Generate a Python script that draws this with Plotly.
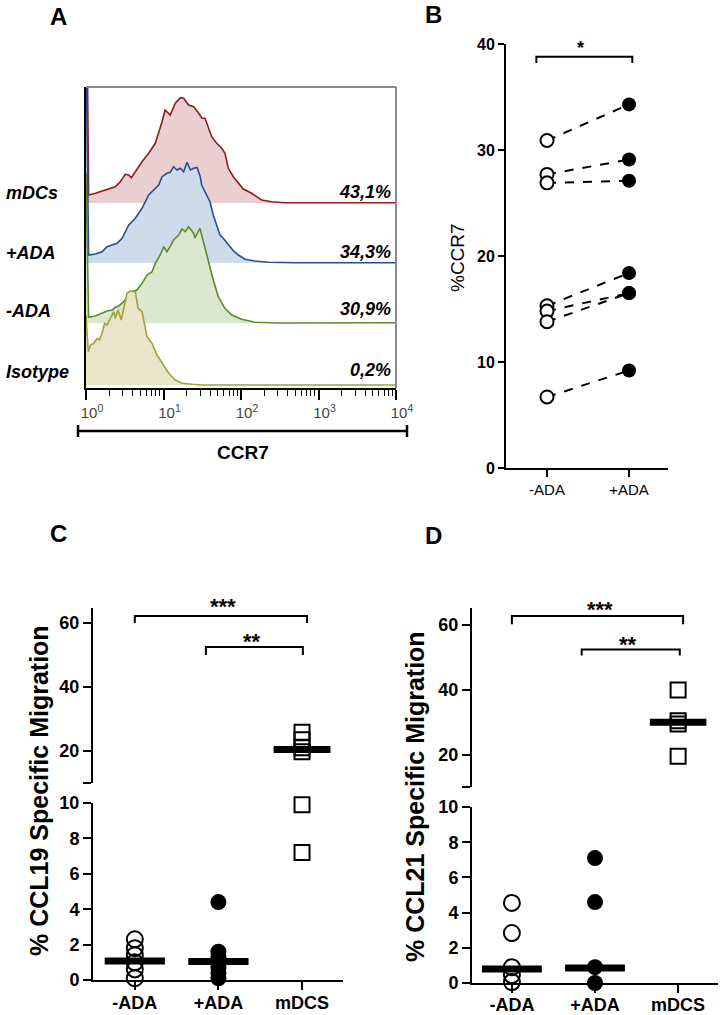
import plotly.graph_objects as go

W, H = 725, 1015
FONT = "Liberation Sans, Arial, sans-serif"

# ---------------- Panel A: CCR7 histograms (intensity vs. relative count) --------
mdcs_x = [1.0, 1.08, 1.32, 1.61, 1.96, 2.39, 2.77, 3.21, 3.56, 3.84, 4.33, 5.28, 6.44, 7.84,
          9.57, 10.5, 12.2, 14.2, 16.5, 18.2, 21.1, 24.5, 28.5, 31.4, 34.3, 37.9, 41.9, 48.6,
          56.4, 62.2, 68.6, 79.6, 92.3, 107, 137, 185, 249, 370, 10000]
mdcs_y = [300, 8, 9.7, 12, 14.7, 16.3, 21.3, 28.7, 28, 25.3, 31.3, 41.3, 49.7, 59.7,
          81.3, 93, 88, 99.7, 105.3, 104.7, 98, 96.3, 89.7, 84.7, 84.7, 74.7, 66.3, 59.7,
          54.7, 49.7, 34.7, 26.3, 19.7, 14, 9.7, 3, 1.3, 0.3, 0.3]

plus_x = [1.0, 1.08, 1.32, 1.61, 1.87, 2.17, 2.51, 2.91, 3.21, 3.56, 4.33, 5.28, 6.44, 7.47,
          8.67, 9.57, 11.1, 12.2, 13.5, 14.9, 16.5, 18.2, 20.1, 22.2, 24.5, 27.1, 29.8, 31.1,
          36.1, 39.8, 43.9, 48.6, 53.6, 59.1, 68.6, 79.6, 92.3, 113, 152, 225, 497, 10000]
plus_y = [220, 8, 9, 11.3, 16.3, 18, 19.7, 24.5, 31.3, 38, 44.7, 54.7, 68, 73,
          78, 86.3, 89.7, 90.7, 96.3, 93, 94.7, 91.3, 100.7, 93, 94.7, 95.5, 86.3, 78,
          68, 61.3, 48, 38, 28, 24.7, 18, 12.3, 8, 3.7, 2, 0.7, 0.2, 0.2]

minus_x = [1.0, 1.08, 1.32, 1.61, 1.87, 2.17, 2.39, 2.64, 3.06, 3.38, 3.92, 4.54, 5.28, 6.13,
           7.11, 7.84, 9.06, 10.05, 11.1, 12.2, 13.5, 15.7, 17.3, 19.1, 21.1, 24.5, 25.5, 29.5,
           32.6, 37.9, 43.9, 50.9, 61.9, 75.9, 102, 151, 303, 10000]
minus_y = [150, 5.7, 7, 10.3, 12, 13, 15.7, 17, 21.3, 26.3, 31.3, 33, 39.7, 48,
           51.3, 59.7, 68, 76.3, 71.3, 76.3, 83, 88, 94, 91.3, 96.3, 89.7, 85, 94.7,
           81.3, 59.7, 43, 26.3, 14.7, 8, 3.7, 0.7, 0, 0.3]

iso_x = [1.0, 1.07, 1.14, 1.26, 1.39, 1.48, 1.61, 1.74, 1.87, 2.06, 2.28, 2.39, 2.59, 2.85,
         3.16, 3.38, 3.73, 4.33, 4.69, 5.28, 6.12, 7.11, 8.24, 9.57, 11.7, 14.2, 17.3, 23.3,
         31.4, 10000]
iso_y = [70, 33.3, 40, 41.7, 46.7, 45, 51.7, 61.7, 60, 66.7, 73.3, 66.7, 75, 65,
         80, 91.7, 94, 93.3, 76.7, 73.3, 48.3, 41.7, 30, 21.7, 11.7, 5, 1.7, 0.7,
         0, 0]

hist_names = ["mDCs", "+ADA", "-ADA", "Isotype"]
hist_pct = ["43,1%", "34,3%", "30,9%", "0,2%"]
a_ticktext = ["10<sup>0</sup>", "10<sup>1</sup>", "10<sup>2</sup>", "10<sup>3</sup>", "10<sup>4</sup>"]

# ---------------- Panel B: paired %CCR7 ----------------
b_categories = ["-ADA", "+ADA"]
b_minus = [30.9, 27.7, 26.9, 15.3, 14.8, 13.8, 6.7]
b_plus = [34.3, 29.1, 27.1, 18.4, 16.5, 16.5, 9.2]

# ---------------- Panels C / D: specific migration ----------------
cd_categories = ["-ADA", "+ADA", "mDCS"]
c_minus = [2.3, 1.8, 1.4, 1.0, 0.6, 0.1]
c_plus = [4.4, 1.6, 1.3, 1.0, 0.7, 0.4, 0.1]
c_mdcs = [25.9, 23.5, 21.0, 19.8, 9.9, 7.2]
c_median = [1.07, 1.05, 20.5]

d_minus = [4.55, 2.84, 0.9, 0.45, 0.05]
d_plus = [7.1, 4.6, 0.9, 0.0]
d_mdcs = [40.0, 30.5, 29.5, 19.5]
d_median = [0.8, 0.85, 30.0]


def px(x):
    return x / W


def py(y):
    return 1 - y / H


fig = go.Figure()

# ---- Panel A traces ----
offsets = [182, 122, 62, 0]
line_cols = ["#8e1b1f", "#23508f", "#5b8c2a", "#a3a23a"]
fill_cols = ["#e9cfcf", "#cddbea", "#dbe7cf", "#e8e5c9"]
curves = [(mdcs_x, mdcs_y), (plus_x, plus_y), (minus_x, minus_y), (iso_x, iso_y)]
for (cx, cy), off, lc, fc in zip(curves, offsets, line_cols, fill_cols):
    fig.add_trace(go.Scatter(x=[cx[0], cx[-1]], y=[off, off], mode="lines",
                             line=dict(width=0), xaxis="x", yaxis="y",
                             showlegend=False, hoverinfo="skip"))
    fig.add_trace(go.Scatter(x=cx, y=[v + off for v in cy], mode="lines",
                             line=dict(color=lc, width=1.6), fill="tonexty",
                             fillcolor=fc, xaxis="x", yaxis="y", showlegend=False))

# ---- Panel B traces ----
for a, b in zip(b_minus, b_plus):
    fig.add_trace(go.Scatter(x=[0, 1], y=[a, b], mode="lines",
                             line=dict(color="black", width=2, dash="dash"),
                             xaxis="x2", yaxis="y2", showlegend=False))
fig.add_trace(go.Scatter(x=[0] * len(b_minus), y=b_minus, mode="markers",
                         marker=dict(symbol="circle", size=13, color="white",
                                     line=dict(color="black", width=2)),
                         xaxis="x2", yaxis="y2", showlegend=False, cliponaxis=False))
fig.add_trace(go.Scatter(x=[1] * len(b_plus), y=b_plus, mode="markers",
                         marker=dict(symbol="circle", size=14, color="black"),
                         xaxis="x2", yaxis="y2", showlegend=False, cliponaxis=False))


# ---- Panels C / D traces ----
def add_migration(groups, medians, xa, y_low, y_high):
    styles = [dict(symbol="circle-open", size=16, color="black", line=dict(width=2)),
              dict(symbol="circle", size=16, color="black"),
              dict(symbol="square-open", size=15, color="black", line=dict(width=2))]
    for i, (vals, st) in enumerate(zip(groups, styles)):
        lo = [v for v in vals if v <= 10]
        hi = [v for v in vals if v > 10]
        if lo:
            fig.add_trace(go.Scatter(x=[i] * len(lo), y=lo, mode="markers", marker=st,
                                     xaxis=xa, yaxis=y_low, showlegend=False, cliponaxis=False))
        if hi:
            fig.add_trace(go.Scatter(x=[i] * len(hi), y=hi, mode="markers", marker=st,
                                     xaxis=xa, yaxis=y_high, showlegend=False, cliponaxis=False))
    for i, m in enumerate(medians):
        half = 0.36 if i < 2 else 0.34
        fig.add_trace(go.Scatter(x=[i - half, i + half], y=[m, m], mode="lines",
                                 line=dict(color="black", width=7),
                                 xaxis=xa, yaxis=(y_low if m <= 10 else y_high),
                                 showlegend=False, cliponaxis=False))


add_migration([c_minus, c_plus, c_mdcs], c_median, "x3", "y3", "y4")
add_migration([d_minus, d_plus, d_mdcs], d_median, "x4", "y5", "y6")

# ---------------- Axes ----------------
bold = dict(family=FONT, size=18, color="black", weight="bold")
common = dict(showgrid=False, zeroline=False, showline=True, linecolor="black", linewidth=2,
              automargin=False)

minor_vals = [k * 10 ** d for d in range(4) for k in range(2, 10)]
fig.update_layout(
    template="none",
    xaxis=dict(domain=[px(86), px(396)], anchor="y", type="log", range=[0, 4],
               tickvals=[1, 10, 100, 1000, 10000], ticktext=a_ticktext,
               ticks="outside", ticklen=10, tickwidth=1.5, tickcolor="black",
               tickfont=dict(family=FONT, size=15, color="#444"), ticklabelshift=6,
               minor=dict(tickvals=minor_vals, ticks="outside", ticklen=6,
                          tickwidth=1, tickcolor="black"),
               **common),
    yaxis=dict(domain=[py(388), py(87)], anchor="x", range=[-3, 298],
               showticklabels=False, ticks="", **common),
    xaxis2=dict(domain=[px(506), px(668)], anchor="y2", range=[-0.5, 1.475],
                tickvals=[0, 1], ticktext=b_categories, ticks="outside", ticklen=7,
                tickwidth=2, tickcolor="black",
                tickfont=dict(family=FONT, size=15, color="black"), **common),
    yaxis2=dict(domain=[py(468), py(44)], anchor="x2", range=[0, 40],
                tickvals=[0, 10, 20, 30, 40], ticks="outside", ticklen=6, tickwidth=2,
                tickcolor="black", tickfont=dict(family=FONT, size=16, color="black", weight="bold"),
                **common),
    xaxis3=dict(domain=[px(93), px(343)], anchor="y3", range=[-0.5, 2.49],
                tickvals=[0, 1, 2], ticktext=cd_categories, ticks="outside", ticklen=8,
                tickwidth=2, tickcolor="black", tickfont=bold, ticklabelstandoff=-3, **common),
    yaxis3=dict(domain=[py(980), py(803)], anchor="x3", range=[0, 10],
                tickvals=[0, 2, 4, 6, 8, 10], ticks="outside", ticklen=8, tickwidth=2,
                tickcolor="black", tickfont=bold, **common),
    yaxis4=dict(domain=[py(783), py(608)], anchor="x3", range=[10, 64.7],
                tickvals=[10, 20, 40, 60], ticktext=["", "20", "40", "60"],
                ticks="outside", ticklen=8, tickwidth=2, tickcolor="black",
                tickfont=bold, **common),
    xaxis4=dict(domain=[px(472), px(718)], anchor="y5", range=[-0.48, 2.48],
                tickvals=[0, 1, 2], ticktext=cd_categories, ticks="outside", ticklen=8,
                tickwidth=2, tickcolor="black", tickfont=bold, ticklabelstandoff=-4, **common),
    yaxis5=dict(domain=[py(983), py(807)], anchor="x4", range=[0, 10],
                tickvals=[0, 2, 4, 6, 8, 10], ticks="outside", ticklen=8, tickwidth=2,
                tickcolor="black", tickfont=bold, **common),
    yaxis6=dict(domain=[py(787), py(608)], anchor="x4", range=[10, 65.3],
                tickvals=[10, 20, 40, 60], ticktext=["", "20", "40", "60"],
                ticks="outside", ticklen=8, tickwidth=2, tickcolor="black",
                tickfont=bold, **common),
)

# ---------------- Shapes ----------------
shapes = []
# Panel A top/right frame in grey
shapes.append(dict(type="line", xref="x domain", yref="y domain", x0=0, x1=1, y0=1, y1=1,
                   line=dict(color="#8a8a8a", width=2)))
shapes.append(dict(type="line", xref="x domain", yref="y domain", x0=1, x1=1, y0=0, y1=1,
                   line=dict(color="#8a8a8a", width=2)))
# CCR7 scale bar
shapes.append(dict(type="line", xref="paper", yref="paper", x0=px(78), x1=px(407),
                   y0=py(431), y1=py(431), line=dict(color="black", width=2.5)))
for xx in (78, 407):
    shapes.append(dict(type="line", xref="paper", yref="paper", x0=px(xx), x1=px(xx),
                       y0=py(425), y1=py(437), line=dict(color="black", width=2.5)))


def bracket(xr, yr, x0, x1, ytop, ybot):
    return [dict(type="path", xref=xr, yref=yr,
                 path=f"M {x0},{ybot} L {x0},{ytop} L {x1},{ytop} L {x1},{ybot}",
                 line=dict(color="black", width=2))]


shapes += bracket("x2", "y2", -0.13, 1.04, 38.8, 38.2)
shapes += bracket("x3", "y4", 0.0, 2.06, 62.2, 60.0)
shapes += bracket("x3", "y4", 0.85, 2.01, 52.5, 50.0)
shapes += bracket("x4", "y6", 0.0, 2.06, 62.8, 60.3)
shapes += bracket("x4", "y6", 0.84, 2.02, 52.5, 50.6)
fig.update_layout(shapes=shapes)

# ---------------- Annotations ----------------
ann = []


def text(x, y, s, size, xanchor="center", angle=0, weight="bold", style="normal", color="black"):
    ann.append(dict(x=px(x), y=py(y), xref="paper", yref="paper", text=s, showarrow=False,
                    xanchor=xanchor, yanchor="middle", textangle=angle,
                    font=dict(family=FONT, size=size, color=color, weight=weight, style=style)))


text(59, 16, "A", 24)
text(433, 15, "B", 24)
text(58, 533, "C", 24)
text(433, 535, "D", 24)

row_y = [193, 253, 311, 372]
pct_y = [192, 252, 309, 370]
for name, pct, ry, pyy in zip(hist_names, hist_pct, row_y, pct_y):
    text(4, ry, name, 18, xanchor="left", style="italic")
    text(393, pyy, pct, 18, xanchor="right", style="italic")
text(243, 452, "CCR7", 19)

text(458, 257, "%CCR7", 19, angle=-90, weight="normal")
text(580, 48, "*", 18)

text(39, 791, "% CCL19 Specific Migration", 25, angle=-90)
text(415, 797, "% CCL21 Specific Migration", 25, angle=-90)
text(223, 606, "***", 22)
text(252, 641, "**", 22)
text(600, 609, "***", 22)
text(628, 644, "**", 22)

fig.update_layout(annotations=ann, width=W, height=H,
                  margin=dict(l=0, r=0, t=0, b=0, autoexpand=False),
                  paper_bgcolor="white", plot_bgcolor="rgba(0,0,0,0)",
                  showlegend=False, font=dict(family=FONT))

fig.write_html("out.html", config={"displayModeBar": False},
               post_script="document.body.style.margin='0';document.body.style.overflow='hidden';")
